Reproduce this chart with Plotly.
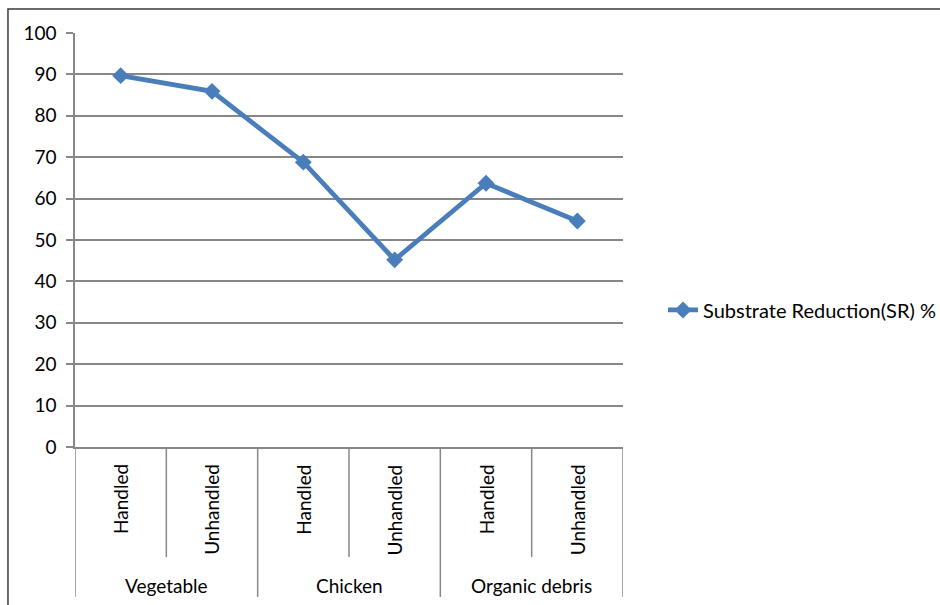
import plotly.graph_objects as go

groups = ["Vegetable", "Chicken", "Organic debris"]
subs = ["Handled", "Unhandled"]
values = [89.7, 85.9, 68.8, 45.2, 63.7, 54.6]
series_name = "Substrate Reduction(SR) %"
y_ticks = [0, 10, 20, 30, 40, 50, 60, 70, 80, 90, 100]

cats = [f"{g} {s}" for g in groups for s in subs]
sub_labels = [s for g in groups for s in subs]

FONT = "Lato"
FS = 19
GRID = "#878787"
BLUE = "#4A7EBB"

fig = go.Figure()
fig.add_trace(go.Scatter(
    x=cats, y=values, mode="lines+markers", name=series_name,
    line=dict(color=BLUE, width=4.8),
    marker=dict(symbol="diamond", size=13, color=BLUE),
    showlegend=True,
))

annotations = []
for c, lab in zip(cats, sub_labels):
    annotations.append(dict(
        x=c, xref="x", y=-0.037, yref="paper", text=lab, showarrow=False,
        textangle=-90, xanchor="center", yanchor="top",
        font=dict(family=FONT, size=FS, color="#000000"),
    ))
n_sub = len(subs)
for gi, g in enumerate(groups):
    annotations.append(dict(
        x=gi * n_sub + (n_sub - 1) / 2, xref="x", y=-0.334, yref="paper",
        text=g, showarrow=False, xanchor="center", yanchor="middle",
        font=dict(family=FONT, size=FS, color="#000000"),
    ))

shapes = []
for i in range(len(cats) + 1):
    is_group = (i % n_sub == 0)
    shapes.append(dict(
        type="line", xref="x", yref="paper",
        x0=i - 0.5, x1=i - 0.5, y0=0, y1=(-0.362 if is_group else -0.266),
        line=dict(color=GRID, width=1.5),
    ))
# outer chart frame
shapes.append(dict(
    type="rect", xref="paper", yref="paper",
    x0=-0.1223, x1=1.7, y0=-0.5, y1=1.058,
    line=dict(color="#3a3a3a", width=1.5), layer="below",
))

fig.update_layout(
    width=940, height=605,
    margin=dict(l=75, r=317, t=33, b=158, autoexpand=False),
    paper_bgcolor="white", plot_bgcolor="white",
    font=dict(family=FONT, size=FS, color="#000000"),
    xaxis=dict(
        type="category", range=[-0.5, len(cats) - 0.5],
        showticklabels=False, showgrid=False, zeroline=False,
        showline=True, linecolor=GRID, linewidth=1.5, ticks="",
        fixedrange=True,
    ),
    yaxis=dict(
        range=[0, 100], tickvals=y_ticks, ticktext=[str(v) for v in y_ticks],
        showgrid=True, gridcolor=GRID, gridwidth=1.5,
        showline=True, linecolor=GRID, linewidth=1.5,
        ticks="outside", ticklen=7, tickcolor=GRID, tickwidth=1.5,
        zeroline=False, ticklabelstandoff=6,
        tickfont=dict(family=FONT, size=FS, color="#000000"),
    ),
    legend=dict(
        x=1.073, xanchor="left", y=0.331, yanchor="middle",
        font=dict(family=FONT, size=20, color="#000000"),
        bgcolor="rgba(0,0,0,0)",
    ),
    annotations=annotations,
    shapes=shapes,
)

fig.write_html("out.html")
